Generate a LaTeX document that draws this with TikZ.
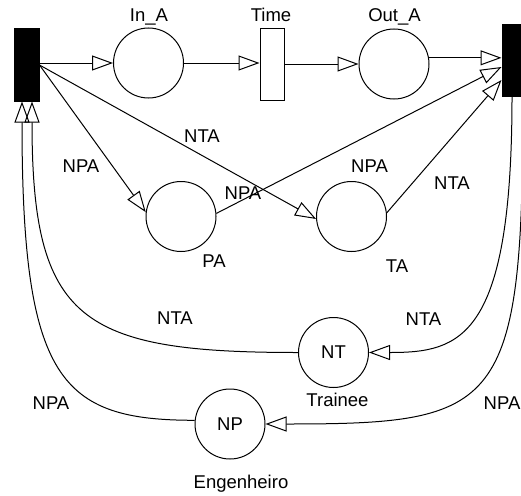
\documentclass[tikz,border=0pt]{standalone}
\usepackage{fontspec}
\setmainfont{Liberation Sans}
\usetikzlibrary{arrows.meta}
\begin{document}
\begin{tikzpicture}[x=1pt,y=-1pt,
  lbl/.style={font={\fontsize{18.5}{22}\selectfont}, inner sep=0pt, anchor=base},
  place/.style={draw, circle, line width=1pt, minimum size=70pt, inner sep=0pt, font={\fontsize{18.5}{22}\selectfont}},
  trans/.style={draw, line width=1pt, rectangle, minimum width=24pt, minimum height=71pt, inner sep=0pt},
  arc/.style={line width=1pt, -{Triangle[open, length=21pt, width=15pt]}}]
\useasboundingbox[fill=white] (0,0) rectangle (521,495);
\clip (0,0) rectangle (521,495);
% transitions
\node[trans, fill=black, minimum width=25pt, minimum height=72pt] (T1) at (26.5,65) {};
\node[trans] (Time) at (272,64.5) {};
\node[trans, fill=black] (T2) at (514,60.5) {};
% places
\node[place] (InA) at (148.5,63) {};
\node[place] (OutA) at (394,64) {};
\node[place] (PA) at (181,216.5) {};
\node[place] (TA) at (351.5,216.5) {};
\node[place] (NT) at (333.5,352.5) {NT};
\node[place] (NP) at (230,424) {NP};
% place/transition names
\node[lbl] (lInA) at (149,22) {In\_A};
\node[lbl] (lTime) at (271,22) {Time};
\node[lbl] (lOutA) at (394.5,22) {Out\_A};
\node[lbl] (lPA) at (214,267) {PA};
\node[lbl] (lTA) at (397,272) {TA};
\node[lbl] (lTrainee) at (337.5,406) {Trainee};
\node[lbl] (lEng) at (241,488) {Engenheiro};
% arc labels
\node[lbl] (a1) at (81,172) {NPA};
\node[lbl] (a2) at (202,142) {NTA};
\node[lbl] (a3) at (243,199) {NPA};
\node[lbl] (a4) at (369.5,172) {NPA};
\node[lbl] (a5) at (452,189) {NTA};
\node[lbl] (a6) at (175,324) {NTA};
\node[lbl] (a7) at (423.5,325) {NTA};
\node[lbl] (a8) at (51,409) {NPA};
\node[lbl] (a9) at (502,409) {NPA};
% arcs
\draw[arc] (T1.east |- InA.west) -- (InA.west);
\draw[arc] (InA.east) -- (InA.east -| Time.west);
\draw[arc] (Time.east |- OutA.west) -- (OutA.west);
\draw[arc] (OutA.10) -- (OutA.10 -| T2.west);
\draw[arc] (T1.east) -- (PA.173);
\draw[arc] (T1.east) -- (TA.184);
\draw[arc] (PA.5) -- ([yshift=-6.5pt]T2.west);
\draw[arc] (TA.6) -- ([yshift=-19.5pt]T2.west);
\draw[arc] ([xshift=-2pt]T2.south) .. controls +(0,243) and +(91,0) .. (NT.east);
\draw[arc] ([xshift=9pt]T2.south) .. controls +(0,314) and +(235,0) .. (NP.east);
\draw[arc] (NT.west) .. controls +(-218,0) and +(0,219) .. ([xshift=5.5pt]T1.south);
\draw[arc] (NP.174) .. controls +(-134,0) and +(0,279) .. ([xshift=-4.5pt]T1.south);
\end{tikzpicture}
\end{document}
